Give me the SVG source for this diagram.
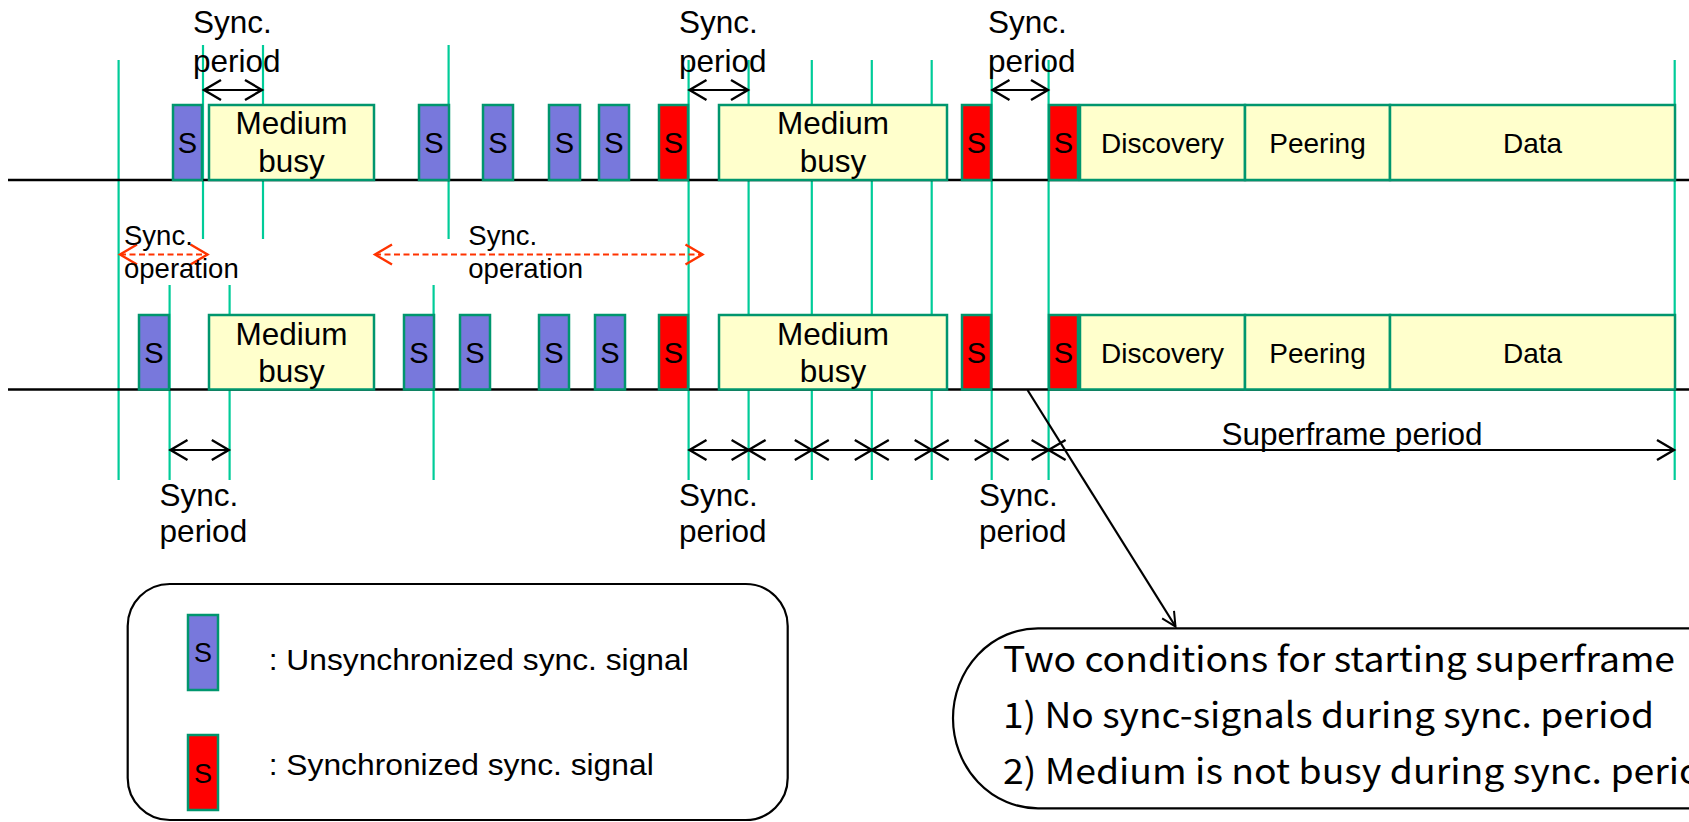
<svg xmlns="http://www.w3.org/2000/svg" width="1689" height="822" viewBox="0 0 1689 822">
<style>
.g{stroke:#00CC99;stroke-width:2.2;fill:none}
.base{stroke:#000;stroke-width:2.5;fill:none}
.sb{fill:#7878DC;stroke:#00966E;stroke-width:2.5}
.sr{fill:#FF0000;stroke:#00966E;stroke-width:2.5}
.y{fill:#FFFFCC;stroke:#00966E;stroke-width:2.5}
.t{font-family:"Liberation Sans",Arial,sans-serif;fill:#000}
.s{font-size:29px;text-anchor:middle}
.m{font-size:31.5px;text-anchor:middle}
.b{font-size:28px;text-anchor:middle}
.lab{font-size:31.5px}
.op{font-size:27.5px}
.arr{stroke:#000;stroke-width:2.2;fill:none;marker-start:url(#ah);marker-end:url(#ah)}
.red{stroke:#FF3300;stroke-width:2.2;fill:none;stroke-dasharray:6 3.5;marker-start:url(#ahr);marker-end:url(#ahr)}
</style>
<defs>
<marker id="ah" markerUnits="userSpaceOnUse" markerWidth="40" markerHeight="40" viewBox="-20 -20 40 40" refX="0" refY="0" orient="auto-start-reverse" overflow="visible"><path d="M-17,-10 L0,0 L-17,10" fill="none" stroke="#000" stroke-width="2.4"/></marker>
<marker id="ahr" markerUnits="userSpaceOnUse" markerWidth="40" markerHeight="40" viewBox="-20 -20 40 40" refX="0" refY="0" orient="auto-start-reverse" overflow="visible"><path d="M-17,-10 L0,0 L-17,10" fill="none" stroke="#FF3300" stroke-width="2.4"/></marker>
<marker id="ahc" markerUnits="userSpaceOnUse" markerWidth="40" markerHeight="40" viewBox="-20 -20 40 40" refX="0" refY="0" orient="auto" overflow="visible"><path d="M-14,-7 L0,0 L-14,7" fill="none" stroke="#000" stroke-width="2"/></marker>
</defs>
<rect width="1689" height="822" fill="#fff"/>

<g id="grid">
<line class="g" x1="118.6" y1="60" x2="118.6" y2="480"/>
<line class="g" x1="203" y1="45" x2="203" y2="239"/>
<line class="g" x1="263" y1="45" x2="263" y2="239"/>
<line class="g" x1="448.6" y1="45" x2="448.6" y2="239"/>
<line class="g" x1="169.6" y1="285" x2="169.6" y2="480"/>
<line class="g" x1="229.6" y1="285" x2="229.6" y2="480"/>
<line class="g" x1="433.6" y1="285" x2="433.6" y2="480"/>
<line class="g" x1="688.6" y1="60" x2="688.6" y2="480"/>
<line class="g" x1="748.6" y1="60" x2="748.6" y2="480"/>
<line class="g" x1="811.8" y1="60" x2="811.8" y2="480"/>
<line class="g" x1="871.8" y1="60" x2="871.8" y2="480"/>
<line class="g" x1="931.7" y1="60" x2="931.7" y2="480"/>
<line class="g" x1="991.7" y1="60" x2="991.7" y2="480"/>
<line class="g" x1="1048.6" y1="60" x2="1048.6" y2="480"/>
<line class="g" x1="1674.7" y1="60" x2="1674.7" y2="480"/>
</g>

<g id="baselines">
<line class="base" x1="8" y1="180" x2="1689" y2="180"/>
<line class="base" x1="8" y1="389.5" x2="1689" y2="389.5"/>
</g>

<g id="row-top">
<g id="t-s1"><rect class="sb" x="173" y="105" width="29" height="75"/><text class="t s" x="187.5" y="153">S</text></g>
<g id="t-mb1"><rect class="y" x="209" y="105" width="165" height="75"/><text class="t m" x="291.5" y="134">Medium</text><text class="t m" x="291.5" y="172">busy</text></g>
<g id="t-s2"><rect class="sb" x="419" y="105" width="30" height="75"/><text class="t s" x="434" y="153">S</text></g>
<g id="t-s3"><rect class="sb" x="483" y="105" width="30" height="75"/><text class="t s" x="498" y="153">S</text></g>
<g id="t-s4"><rect class="sb" x="549" y="105" width="31" height="75"/><text class="t s" x="564.5" y="153">S</text></g>
<g id="t-s5"><rect class="sb" x="599" y="105" width="30" height="75"/><text class="t s" x="614" y="153">S</text></g>
<g id="t-s6"><rect class="sr" x="659" y="105" width="29" height="75"/><text class="t s" x="673.5" y="153">S</text></g>
<g id="t-mb2"><rect class="y" x="719" y="105" width="228" height="75"/><text class="t m" x="833" y="134">Medium</text><text class="t m" x="833" y="172">busy</text></g>
<g id="t-s7"><rect class="sr" x="962" y="105" width="29" height="75"/><text class="t s" x="976.5" y="153">S</text></g>
<g id="t-s8"><rect class="sr" x="1049" y="105" width="29" height="75"/><text class="t s" x="1063.5" y="153">S</text></g>
<g id="t-disc"><rect class="y" x="1080" y="105" width="165" height="75"/><text class="t b" x="1162.5" y="153">Discovery</text></g>
<g id="t-peer"><rect class="y" x="1245" y="105" width="145" height="75"/><text class="t b" x="1317.5" y="153">Peering</text></g>
<g id="t-data"><rect class="y" x="1390" y="105" width="285" height="75"/><text class="t b" x="1532.5" y="153">Data</text></g>
</g>

<g id="row-bottom">
<g id="b-s1"><rect class="sb" x="139" y="315" width="30" height="74.5"/><text class="t s" x="154" y="363">S</text></g>
<g id="b-mb1"><rect class="y" x="209" y="315" width="165" height="74.5"/><text class="t m" x="291.5" y="345">Medium</text><text class="t m" x="291.5" y="382">busy</text></g>
<g id="b-s2"><rect class="sb" x="404" y="315" width="30" height="74.5"/><text class="t s" x="419" y="363">S</text></g>
<g id="b-s3"><rect class="sb" x="460" y="315" width="30" height="74.5"/><text class="t s" x="475" y="363">S</text></g>
<g id="b-s4"><rect class="sb" x="539" y="315" width="30" height="74.5"/><text class="t s" x="554" y="363">S</text></g>
<g id="b-s5"><rect class="sb" x="595" y="315" width="30" height="74.5"/><text class="t s" x="610" y="363">S</text></g>
<g id="b-s6"><rect class="sr" x="659" y="315" width="29" height="74.5"/><text class="t s" x="673.5" y="363">S</text></g>
<g id="b-mb2"><rect class="y" x="719" y="315" width="228" height="74.5"/><text class="t m" x="833" y="345">Medium</text><text class="t m" x="833" y="382">busy</text></g>
<g id="b-s7"><rect class="sr" x="962" y="315" width="29" height="74.5"/><text class="t s" x="976.5" y="363">S</text></g>
<g id="b-s8"><rect class="sr" x="1049" y="315" width="29" height="74.5"/><text class="t s" x="1063.5" y="363">S</text></g>
<g id="b-disc"><rect class="y" x="1080" y="315" width="165" height="74.5"/><text class="t b" x="1162.5" y="363">Discovery</text></g>
<g id="b-peer"><rect class="y" x="1245" y="315" width="145" height="74.5"/><text class="t b" x="1317.5" y="363">Peering</text></g>
<g id="b-data"><rect class="y" x="1390" y="315" width="285" height="74.5"/><text class="t b" x="1532.5" y="363">Data</text></g>
</g>

<g id="connectors">
<line class="arr" x1="204" y1="90" x2="262" y2="90"/>
<line class="arr" x1="689.5" y1="90" x2="748" y2="90"/>
<line class="arr" x1="992.5" y1="90" x2="1048" y2="90"/>
<line class="arr" x1="170.5" y1="450" x2="228.8" y2="450"/>
<line class="arr" x1="689.5" y1="450" x2="748.6" y2="450"/>
<line class="arr" x1="748.6" y1="450" x2="811.8" y2="450"/>
<line class="arr" x1="811.8" y1="450" x2="871.8" y2="450"/>
<line class="arr" x1="871.8" y1="450" x2="931.7" y2="450"/>
<line class="arr" x1="931.7" y1="450" x2="991.7" y2="450"/>
<line class="arr" x1="991.7" y1="450" x2="1048.6" y2="450"/>
<line class="arr" x1="1048.6" y1="450" x2="1674" y2="450"/>
<line class="red" x1="120" y1="254.5" x2="207.5" y2="254.5"/>
<line class="red" x1="375" y1="254.5" x2="702.5" y2="254.5"/>
<line stroke="#000" stroke-width="2.2" fill="none" marker-end="url(#ahc)" x1="1027.5" y1="390" x2="1175.5" y2="626.5"/>
</g>

<g id="labels">
<text class="t lab" x="193" y="33">Sync.</text><text class="t lab" x="193" y="71.5">period</text>
<text class="t lab" x="679" y="33">Sync.</text><text class="t lab" x="679" y="71.5">period</text>
<text class="t lab" x="988" y="33">Sync.</text><text class="t lab" x="988" y="71.5">period</text>
<text class="t lab" x="159.6" y="506">Sync.</text><text class="t lab" x="159.6" y="541.5">period</text>
<text class="t lab" x="679" y="506">Sync.</text><text class="t lab" x="679" y="541.5">period</text>
<text class="t lab" x="979" y="506">Sync.</text><text class="t lab" x="979" y="541.5">period</text>
<text class="t op" x="124" y="245">Sync.</text><text class="t op" x="124" y="278">operation</text>
<text class="t op" x="468.3" y="245">Sync.</text><text class="t op" x="468.3" y="278">operation</text>
<text class="t" font-size="31.5" text-anchor="middle" x="1352" y="445">Superframe period</text>
</g>

<g id="legend">
<rect x="127.7" y="584" width="660" height="236" rx="42" ry="42" fill="#fff" stroke="#000" stroke-width="2.2"/>
<rect class="sb" x="188" y="615" width="30" height="75"/><text class="t" font-size="27" text-anchor="middle" x="203" y="662">S</text>
<rect class="sr" x="188" y="735" width="30" height="75"/><text class="t" font-size="27" text-anchor="middle" x="203" y="783">S</text>
<text class="t" font-size="30" x="268.7" y="670" textLength="420" lengthAdjust="spacingAndGlyphs">: Unsynchronized sync. signal</text>
<text class="t" font-size="30" x="268.7" y="775" textLength="385" lengthAdjust="spacingAndGlyphs">: Synchronized sync. signal</text>
</g>

<g id="callout">
<rect x="953" y="628.3" width="820" height="180" rx="85" ry="90" fill="#fff" stroke="#000" stroke-width="2.2"/>
<g font-family="'Noto Sans CJK JP','Noto Sans',sans-serif" font-size="35" fill="#000">
<text x="1003" y="672" textLength="672" lengthAdjust="spacingAndGlyphs">Two conditions for starting superframe</text>
<text x="1003" y="728" textLength="651" lengthAdjust="spacingAndGlyphs">1) No sync-signals during sync. period</text>
<text x="1003" y="784" textLength="722" lengthAdjust="spacingAndGlyphs">2) Medium is not busy during sync. period</text>
</g>
</g>
</svg>
